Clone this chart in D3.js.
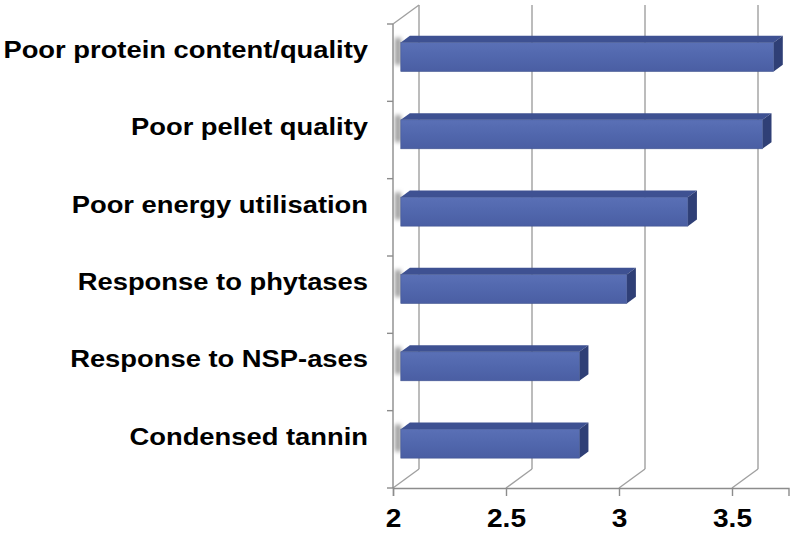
<!DOCTYPE html>
<meta charset="utf-8">
<head>
  <script src="https://d3js.org/d3.v7.min.js"></script>
  <style>
    body { margin: 0; background: #fff; }
    svg { display: block; font-family: "Liberation Sans", Arial, sans-serif; }
  </style>
</head>
<body>
<div id="my_dataviz"></div>
<script>
// data
var categories = ["Poor protein content/quality", "Poor pellet quality", "Poor energy utilisation",
                  "Response to phytases", "Response to NSP-ases", "Condensed tannin"];
var values = [3.65, 3.60, 3.27, 3.00, 2.79, 2.79];
var xTicks = [2, 2.5, 3, 3.5];

var W = 792, H = 533;
// 3d depth of the box (back wall offset)
var depth = {dx: 26, dy: -19};
// bar sits between these depth fractions
var barFront = 0.3, barBack = 0.65;
// text in the original is a bit wider than the font
var stretch = 1.14;

var svg = d3.select("#my_dataviz").append("svg")
  .attr("width", W).attr("height", H);

var defs = svg.append("defs");
defs.append("filter").attr("id", "blur")
  .attr("x", "-50%").attr("y", "-50%").attr("width", "200%").attr("height", "200%")
  .append("feGaussianBlur").attr("stdDeviation", 2.2);
var grad = defs.append("linearGradient").attr("id", "front")
  .attr("x1", 0).attr("y1", 0).attr("x2", 0).attr("y2", 1);
grad.append("stop").attr("offset", "0%").attr("stop-color", "#5a70b6");
grad.append("stop").attr("offset", "50%").attr("stop-color", "#5167ad");
grad.append("stop").attr("offset", "100%").attr("stop-color", "#4a5ea3");

var x = d3.scaleLinear().domain([2, 3.75]).range([393, 788.5]);
var y = d3.scaleBand().domain(categories).range([24, 488]).padding(0);

var top0 = 24, bottom = 488;

// back wall gridlines
svg.append("g").selectAll("line.grid")
  .data(xTicks)
  .enter().append("line")
    .attr("x1", function(d) { return x(d) + depth.dx; })
    .attr("x2", function(d) { return x(d) + depth.dx; })
    .attr("y1", top0 + depth.dy)
    .attr("y2", bottom + depth.dy)
    .attr("stroke", "#a0a0a0").attr("stroke-width", 1.4);

// floor diagonals
svg.append("g").selectAll("line.floor")
  .data(xTicks)
  .enter().append("line")
    .attr("x1", function(d) { return x(d); })
    .attr("x2", function(d) { return x(d) + depth.dx; })
    .attr("y1", bottom)
    .attr("y2", bottom + depth.dy)
    .attr("stroke", "#a0a0a0").attr("stroke-width", 1.4);

// left wall top edge
svg.append("line")
  .attr("x1", x(2)).attr("y1", top0)
  .attr("x2", x(2) + depth.dx).attr("y2", top0 + depth.dy)
  .attr("stroke", "#a0a0a0").attr("stroke-width", 1.4);

// bars
var bh = 29;
var fdx = depth.dx * barFront, fdy = depth.dy * barFront;
var sdx = depth.dx * (barBack - barFront), sdy = depth.dy * (barBack - barFront);

var bars = svg.append("g").selectAll("g.bar")
  .data(categories.map(function(c, i) { return {cat: c, v: values[i]}; }))
  .enter().append("g");

bars.each(function(d) {
  var g = d3.select(this);
  var cy = y(d.cat) + y.bandwidth() / 2 + fdy;
  var x0 = x(2) + fdx, x1 = x(d.v) + fdx;
  var yt = cy - bh / 2, yb = cy + bh / 2;
  // soft shadow on the left wall
  g.append("rect")
    .attr("x", x(2) + 2).attr("y", yt + sdy + 2)
    .attr("width", 6).attr("height", bh - 2)
    .attr("fill", "#9a9a9a").attr("filter", "url(#blur)");
  // top face
  g.append("path")
    .attr("d", "M" + x0 + "," + yt + "L" + (x0 + sdx) + "," + (yt + sdy) +
               "L" + (x1 + sdx) + "," + (yt + sdy) + "L" + x1 + "," + yt + "Z")
    .attr("fill", "#3e5192");
  // side face
  g.append("path")
    .attr("d", "M" + x1 + "," + yt + "L" + (x1 + sdx) + "," + (yt + sdy) +
               "L" + (x1 + sdx) + "," + (yb + sdy) + "L" + x1 + "," + yb + "Z")
    .attr("fill", "#2f3f76");
  // front face
  g.append("rect")
    .attr("x", x0).attr("y", yt)
    .attr("width", x1 - x0).attr("height", bh)
    .attr("fill", "url(#front)")
    .attr("stroke", "#42558f").attr("stroke-width", 0.6);
});

// front left axis
svg.append("line")
  .attr("x1", x(2)).attr("x2", x(2)).attr("y1", top0).attr("y2", bottom)
  .attr("stroke", "#8c8c8c").attr("stroke-width", 1.4);
var yEdges = categories.map(function(c) { return y(c); }).concat([bottom]);
svg.append("g").selectAll("line")
  .data(yEdges)
  .enter().append("line")
    .attr("x1", x(2) - 6).attr("x2", x(2))
    .attr("y1", function(d) { return d; }).attr("y2", function(d) { return d; })
    .attr("stroke", "#8c8c8c").attr("stroke-width", 1.4);

// bottom axis
var xAxis = svg.append("g")
  .attr("transform", "translate(0," + bottom + ")")
  .call(d3.axisBottom(x).tickValues(xTicks).tickSize(8).tickPadding(13)
        .tickFormat(d3.format("")));
xAxis.select(".domain").attr("stroke", "#8c8c8c").attr("stroke-width", 1.4);
xAxis.selectAll(".tick line").attr("stroke", "#8c8c8c").attr("stroke-width", 1.4);
xAxis.selectAll(".tick text")
  .attr("fill", "#000").style("font-size", "26px").style("font-weight", "bold")
  .style("font-family", "'Liberation Sans', Arial, sans-serif")
  .attr("transform", "scale(1.08,1)");

// category labels
svg.append("g").selectAll("g")
  .data(categories)
  .enter().append("g")
    .attr("transform", function(d) {
      return "translate(368," + (y(d) + y.bandwidth() / 2 - 13) + ") scale(" + stretch + ",1)";
    })
  .append("text")
    .attr("dy", "0.35em")
    .attr("text-anchor", "end")
    .style("font-size", "24px").style("font-weight", "bold")
    .text(function(d) { return d; });
</script>
</body>
